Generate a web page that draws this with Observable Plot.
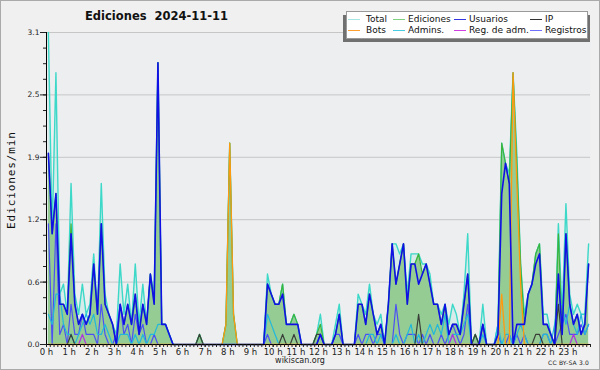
<!DOCTYPE html>
<html><head><meta charset="utf-8">
<script src="https://cdn.jsdelivr.net/npm/d3@7"></script>
<script src="https://cdn.jsdelivr.net/npm/@observablehq/plot@0.6"></script>
<style>
html,body{margin:0;padding:0;background:#f0f0f0;}
#wrap{position:relative;width:600px;height:370px;overflow:hidden;font-family:"DejaVu Sans",sans-serif;color:#111;}
#border{position:absolute;left:0;top:0;width:598px;height:368px;border:1px solid #aaa;pointer-events:none;}
#title{position:absolute;left:85px;top:9px;font-weight:bold;font-size:11.5px;white-space:pre;}
#ylab{position:absolute;left:11px;top:180px;transform:translate(-50%,-50%) rotate(-90deg);font-family:"DejaVu Sans Mono",monospace;font-size:11px;letter-spacing:0.9px;white-space:nowrap;}
#foot{position:absolute;left:300px;top:356px;transform:translateX(-50%);font-size:8px;color:#222;}
#cc{position:absolute;left:548px;top:359px;font-size:6px;color:#222;letter-spacing:0.2px;}
#shadow{position:absolute;left:343px;top:15px;width:247px;height:27px;background:#707070;}
#legend{position:absolute;left:346px;top:11px;width:240px;height:26px;background:#fff;border:1px solid #9a9a9a;}
.li{position:absolute;font-size:9px;line-height:10px;white-space:nowrap;}
.sw{position:absolute;height:0;border-top:1px solid;width:12px;}
</style></head>
<body>
<div id="wrap">
  <div id="chart"></div>
  <div id="title">Ediciones  2024-11-11</div>
  <div id="ylab">Ediciones/min</div>
  <div id="shadow"></div>
  <div id="legend"></div>
  <div id="foot">wikiscan.org</div>
  <div id="cc">CC BY-SA 3.0</div>
  <div id="border"></div>
</div>
<script>
// 10-minute slots (minutes after midnight, centre of each slot)
const slots = d3.range(144).map(i => i * 10 + 5);

const total = [
 3.1,1.1,2.7,0.5,0.6,0.3, 1.6,0.5,0.3,0.6,0.3,0.4, 0.9,0.3,1.6,0.5,0.3,0.2, 0.1,0.8,0.3,0.6,0.2,0.8,
 0.2,0.6,0.2,0.7,0.5,2.8, 0.2,0.2,0.1,0,0,0, 0,0,0,0,0.1,0, 0,0,0,0,0,0.2,
 2.0,0.3,0,0,0,0, 0,0,0,0,0.7,0.5, 0.4,0.4,0.6,0.2,0.2,0.3, 0.2,0,0,0,0,0.1,
 0.3,0,0,0,0.2,0.4, 0,0,0,0,0.5,0.4, 0.3,0.6,0.3,0.2,0.3,0, 0.4,1.0,1.0,0.9,1.0,0.5,
 0.9,0.9,0.9,0.8,0.8,0.7, 0.4,0.4,0.3,0.4,0.2,0.4, 0.3,0.1,0.5,1.1,0,0.1, 0,0.4,0,0,0,0.2,
 2.0,1.8,1.7,2.7,1.9,0.8, 0.3,0.5,0.6,0.9,1.0,0.3, 0.3,0.1,0,1.2,0.3,1.4, 0.5,0.3,0.4,0.3,0.3,1.0
];
const ediciones = [
 1.9,1.1,1.5,0.4,0.4,0.3, 1.2,0.4,0.2,0.3,0.2,0.3, 0.8,0.3,1.2,0.4,0.3,0.2, 0,0.4,0.2,0.4,0.2,0.5,
 0.1,0.4,0.2,0.7,0.4,2.8, 0.2,0.2,0.1,0,0,0, 0,0,0,0,0.1,0, 0,0,0,0,0,0.2,
 2.0,0.3,0,0,0,0, 0,0,0,0,0.6,0.5, 0.4,0.4,0.6,0.2,0.2,0.3, 0.2,0,0,0,0,0.1,
 0.2,0,0,0,0.1,0.3, 0,0,0,0,0.4,0.4, 0.2,0.5,0.3,0.1,0.2,0, 0.4,1.0,0.6,0.8,1.0,0.4,
 0.8,0.8,0.9,0.7,0.8,0.6, 0.4,0.4,0.2,0.4,0.1,0.2, 0.2,0.1,0.4,0.7,0,0.1, 0,0.2,0,0,0,0.1,
 2.0,1.8,1.6,2.7,1.8,0.8, 0.2,0.5,0.6,0.9,1.0,0.2, 0.2,0.1,0,1.1,0.1,1.1, 0.4,0.2,0.3,0.1,0.2,0.8
];
const usuarios = [
 1.9,1.1,1.5,0.4,0.4,0.3, 1.1,0.4,0.2,0.3,0.2,0.3, 0.8,0.3,1.2,0.4,0.3,0.2, 0,0.4,0.2,0.4,0.2,0.5,
 0.1,0.4,0.2,0.7,0.4,2.8, 0.2,0.2,0.1,0,0,0, 0,0,0,0,0,0, 0,0,0,0,0,0,
 0,0,0,0,0,0, 0,0,0,0,0.6,0.5, 0.4,0.4,0.5,0.2,0.2,0.2, 0.2,0,0,0,0,0,
 0.1,0,0,0,0.1,0.3, 0,0,0,0,0.4,0.4, 0.2,0.5,0.3,0.1,0.2,0, 0.4,1.0,0.6,0.8,1.0,0.4,
 0.8,0.8,0.6,0.7,0.8,0.6, 0.4,0.4,0.2,0.4,0.1,0.2, 0.2,0.1,0.4,0.7,0,0, 0,0.2,0,0,0,0.1,
 1.5,1.8,1.6,0,0.2,0.2, 0.2,0.5,0.6,0.8,0.9,0.2, 0.2,0.1,0,0.7,0.1,1.1, 0.4,0.2,0.3,0.1,0.2,0.8
];
const ip = [
 0,0,0,0,0,0, 0.1,0,0,0,0,0, 0,0,0,0,0,0, 0,0,0,0,0,0,
 0,0,0,0,0,0, 0,0,0,0,0,0, 0,0,0,0,0.1,0, 0,0,0,0,0,0,
 0,0,0,0,0,0, 0,0,0,0,0,0, 0,0,0.1,0,0,0.1, 0,0,0,0,0,0.1,
 0.1,0,0,0,0,0, 0,0,0,0,0,0, 0,0,0,0,0,0, 0,0,0,0,0,0,
 0,0,0.3,0,0,0, 0,0,0,0,0,0, 0,0,0,0,0,0.1, 0,0,0,0,0,0,
 0,0,0,0,0,0, 0,0,0,0.1,0.1,0, 0,0,0,0.4,0,0, 0,0,0,0,0,0
];
const bots = [
 0,0,0,0,0,0, 0,0,0,0,0,0, 0,0,0,0,0,0, 0,0,0,0,0,0,
 0,0,0,0,0,0, 0,0,0,0,0,0, 0,0,0,0,0,0, 0,0,0,0,0,0.2,
 2.0,0.3,0,0,0,0, 0,0,0,0,0,0, 0,0,0,0,0,0, 0,0,0,0,0,0,
 0,0,0,0,0,0, 0,0,0,0,0,0, 0,0,0,0,0,0, 0,0,0,0,0,0,
 0,0,0,0,0,0, 0,0,0,0,0,0, 0,0,0,0,0,0, 0,0,0,0,0,0,
 0.5,0,0,2.7,1.6,0.6, 0,0,0,0,0,0, 0,0,0,0,0,0, 0,0,0,0,0,0
];
const admins = [
 0.3,0.2,0.5,0.5,0.2,0.1, 0.1,0,0.1,0.2,0.3,0.2, 0.3,0.1,0.1,0.2,0.1,0, 0,0.1,0.1,0.1,0,0.1,
 0,0.1,0,0.1,0.1,0.2, 0.2,0.2,0.1,0,0,0, 0,0,0,0,0,0, 0,0,0,0,0,0,
 0,0,0,0,0,0, 0,0,0,0,0.3,0.2, 0.1,0,0,0,0,0, 0,0,0,0,0,0,
 0,0,0,0,0,0, 0,0,0,0,0,0, 0,0.1,0.1,0,0.1,0, 0,0,0.1,0,0,0.1,
 0.2,0,0.1,0,0.1,0.2, 0.1,0.2,0.1,0.3,0,0.1, 0.1,0.1,0.2,0.3,0,0, 0,0.1,0,0,0,0.2,
 0,0.1,0.1,0,0.1,0.2, 0.1,0,0,0,0,0.1, 0.1,0,0.2,0.4,0.4,0.2, 0.4,0.2,0.1,0.3,0.1,0.2
];
const regAdm = [
 0,0,0,0,0,0, 0,0,0,0.1,0,0, 0,0,0,0,0,0, 0,0,0,0,0,0,
 0,0,0,0,0,0, 0,0,0,0,0,0, 0,0,0,0,0,0, 0,0,0,0,0,0,
 0,0,0,0,0,0, 0,0,0,0,0,0, 0,0,0,0,0,0, 0,0,0,0,0,0,
 0,0,0,0,0,0, 0,0,0,0,0,0, 0,0,0,0,0,0, 0,0,0,0,0,0,
 0,0,0,0,0,0, 0,0,0,0,0,0.1, 0,0,0,0,0,0, 0,0,0,0,0,0,
 0,0,0,0,0,0, 0,0,0,0,0,0, 0,0,0,0,0,0, 0,0.1,0,0,0,0
];
const registros = [
 1.2,0,1.2,0.1,0.2,0, 0.4,0.1,0.1,0.3,0.1,0.1, 0.1,0,0.4,0.1,0,0, 0.1,0.4,0.1,0.2,0,0.3,
 0.1,0.2,0,0,0.1,0, 0,0,0,0,0,0, 0,0,0,0,0,0, 0,0,0,0,0,0,
 0,0,0,0,0,0, 0,0,0,0,0.1,0, 0,0,0,0,0,0, 0,0,0,0,0,0,
 0.1,0,0,0,0.1,0.1, 0,0,0,0,0.1,0, 0.1,0.1,0,0.1,0.1,0, 0,0,0.4,0.1,0,0.1,
 0.1,0.1,0,0.1,0,0.1, 0,0,0.1,0,0.1,0.2, 0.1,0,0.1,0.4,0,0, 0,0.2,0,0,0,0.1,
 0,0,0.1,0,0.1,0, 0.1,0,0,0,0,0.1, 0.1,0,0,0.1,0.2,0.3, 0.1,0.1,0.1,0.2,0.1,0.2
];

const hours = d3.range(24);
const yMajor = [0, 0.62, 1.24, 1.86, 2.48, 3.1];
const yMinor = d3.range(21).map(k => k * 0.155);

const series = [
  {key: "total", name: "Total", color: "#3cd8c8", legend: "#a6e6e2", w: 1.4},
  {key: "ediciones", name: "Ediciones", color: "#3cb43c", legend: "#7fd07f", w: 1.2},
  {key: "usuarios", name: "Usuarios", color: "#1010e6", legend: "#3434e0", w: 1.6},
  {key: "ip", name: "IP", color: "#3a3f3a", legend: "#333333", w: 1.2},
  {key: "bots", name: "Bots", color: "#ff9a10", legend: "#ffa030", w: 1.3},
  {key: "admins", name: "Admins.", color: "#22b8dc", legend: "#48cce0", w: 1.2},
  {key: "regAdm", name: "Reg. de adm.", color: "#b030e0", legend: "#d040e0", w: 1.2},
  {key: "registros", name: "Registros", color: "#4c50f4", legend: "#7070ff", w: 1.2}
];
const dataBy = {total, ediciones, usuarios, ip, bots, admins, regAdm, registros};
const rows = slots.map((m, i) => {
  const r = {t: m / 60};
  for (const s of series) r[s.key] = dataBy[s.key][i];
  return r;
});
const S = Object.fromEntries(series.map(s => [s.key, s]));
const line = k => Plot.lineY(rows, {x: "t", y: k, stroke: S[k].color, strokeWidth: S[k].w});

const chart = Plot.plot({
  width: 600, height: 370,
  marginLeft: 46, marginRight: 10, marginTop: 32, marginBottom: 26,
  style: {background: "transparent", fontFamily: "DejaVu Sans, sans-serif", color: "#222"},
  x: {domain: [0, 24]},
  y: {domain: [0, 3.1]},
  marks: [
    Plot.frame({fill: "#eceef0", stroke: null}),
    Plot.gridY(yMajor.slice(1), {stroke: "#c6c6c6", strokeOpacity: 1, strokeWidth: 1}),
    Plot.areaY(rows, {x: "t", y: "total", fill: "#3cd8c8", fillOpacity: 0.12}),
    Plot.areaY(rows, {x: "t", y: "ediciones", fill: "#94cc94", fillOpacity: 1}),
    line("total"), line("ediciones"), line("registros"), line("admins"),
    line("regAdm"), line("ip"), line("bots"), line("usuarios"),
    Plot.ruleY([0], {stroke: "#000"}),
    Plot.ruleX([0], {stroke: "#000"}),
    Plot.axisY(yMinor, {tickSize: 3, tickFormat: () => "", label: null}),
    Plot.axisY(yMajor, {tickSize: 6, tickPadding: 1, tickFormat: d => d.toFixed(1), fontSize: 7.5, label: null}),
    Plot.axisX(d3.range(145).map(k => k / 6), {tickSize: 3, tickFormat: () => "", label: null}),
    Plot.axisX(hours, {tickSize: 3, tickPadding: 1.5, tickFormat: d => `${d} h`, fontSize: 8.5, label: null})
  ]
});
document.getElementById("chart").appendChild(chart);

// legend
const leg = document.getElementById("legend");
const colX = [[1, 19], [46, 61], [107, 122], [183, 198]];
series.forEach((s, i) => {
  const col = i % 4, row = Math.floor(i / 4);
  const y = row === 0 ? 2 : 13;
  const sw = document.createElement("div");
  sw.className = "sw";
  sw.style.left = colX[col][0] + "px";
  sw.style.top = (y + 5) + "px";
  sw.style.borderTopColor = s.legend;
  leg.appendChild(sw);
  const t = document.createElement("div");
  t.className = "li";
  t.style.left = colX[col][1] + "px";
  t.style.top = y + "px";
  t.textContent = s.name;
  leg.appendChild(t);
});
</script>
</body></html>
